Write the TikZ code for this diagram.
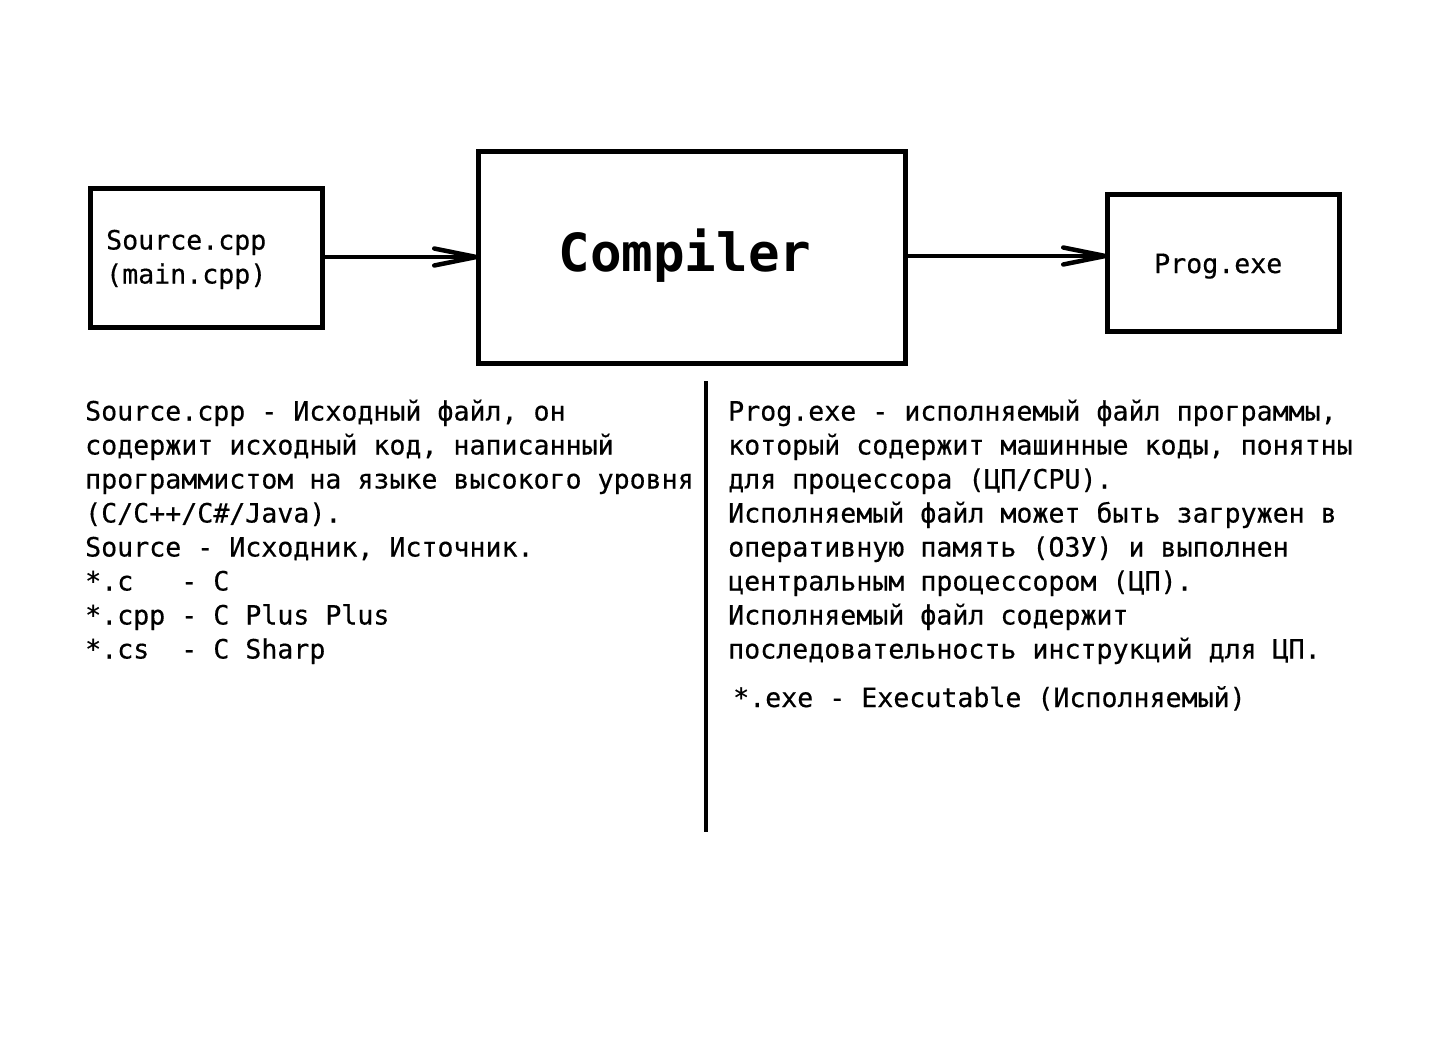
\documentclass[tikz,border=0pt]{standalone}
\usepackage{fontspec}
\setmainfont{DejaVu Sans Mono}[UprightFeatures={FakeBold=0.4}]
\usetikzlibrary{arrows.meta}
\begin{document}
\begin{tikzpicture}[x=1pt,y=-1pt,
  box/.style={draw, line width=5pt, inner sep=0pt, outer sep=0pt},
  txt/.style={font=\fontsize{26.6}{34}\selectfont, inner sep=0pt, anchor=base west},
  arr/.style={line width=4.5pt, -{Straight Barb[length=42pt,width=17pt,line width=4.5pt,round]}},
  divider/.style={line width=4pt}]
\useasboundingbox[fill=white] (0,0) rectangle (1448,1054);
% boxes
\node[box, minimum width=232pt, minimum height=139pt] (src) at (206,257.5) {};
\node[box, minimum width=427pt, minimum height=212pt] (comp) at (692,257.5) {};
\node[box, minimum width=231.5pt, minimum height=137.5pt] (prog) at (1223.25,262.75) {};
% box texts
\node[txt] (srct) at (106,249.5) {\begin{tabular}[t]{@{}l@{}}Source.cpp\\(main.cpp)\end{tabular}};
\node[font=\bfseries\fontsize{52.5}{60}\selectfont, inner sep=0pt, anchor=base] (compt) at (685,271) {Compiler};
\node[txt] (progt) at (1154,273) {Prog.exe};
% arrows
\draw[arr] (src.east |- 0,257) -- (comp.west |- 0,257);
\draw[arr] (comp.east |- 0,256) -- (prog.west |- 0,256);
% divider
\coordinate (vtop) at (706,381);
\coordinate (vbot) at (706,832);
\draw[divider] (vtop) -- (vbot);
% descriptions
\node[txt] (left) at (85,420.5) {\begin{tabular}[t]{@{}l@{}}
Source.cpp - Исходный файл, он\\
содержит исходный код, написанный\\
программистом на языке высокого уровня\\
(C/C++/C\#/Java).\\
Source - Исходник, Источник.\\
{*}.c\ \ \ - C\\
{*}.cpp - C Plus Plus\\
{*}.cs\ \ - C Sharp
\end{tabular}};
\node[txt] (right) at (728,420.5) {\begin{tabular}[t]{@{}l@{}}
Prog.exe - исполняемый файл программы,\\
который содержит машинные коды, понятны\\
для процессора (ЦП/CPU).\\
Исполняемый файл может быть загружен в\\
оперативную память (ОЗУ) и выполнен\\
центральным процессором (ЦП).\\
Исполняемый файл содержит\\
последовательность инструкций для ЦП.
\end{tabular}};
\node[txt] (exe) at (733,707) {*.exe - Executable (Исполняемый)};
\end{tikzpicture}
\end{document}
